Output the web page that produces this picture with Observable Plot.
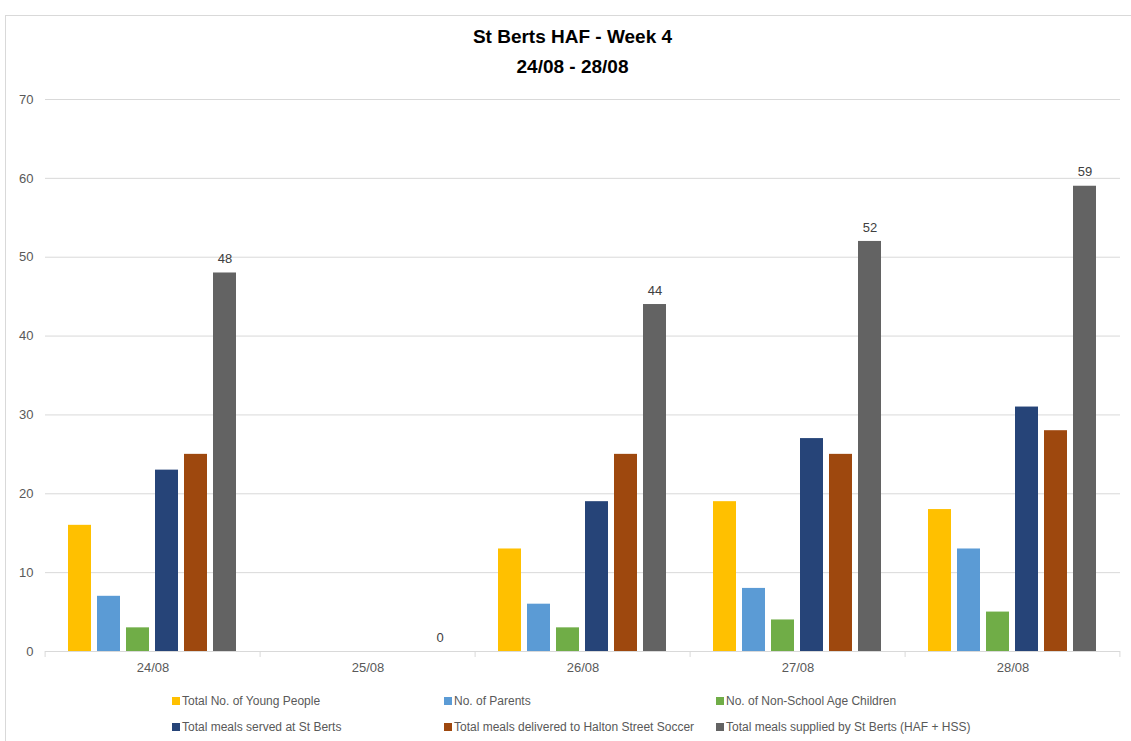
<!DOCTYPE html>
<html>
<head>
<meta charset="utf-8">
<script src="https://cdn.jsdelivr.net/npm/d3@7"></script>
<script src="https://cdn.jsdelivr.net/npm/@observablehq/plot@0.6"></script>
<style>
  html, body { margin: 0; padding: 0; background: #fff; }
  #wrap { position: relative; width: 1131px; height: 741px; overflow: hidden; font-family: "Liberation Sans", Arial, sans-serif; }
  #frame { position: absolute; left: 5px; top: 15px; width: 1140px; height: 740px; border: 1px solid #d9d9d9; box-sizing: border-box; }
  #title { position: absolute; left: 0; width: 1145px; top: 22px; text-align: center; font-weight: bold; font-size: 19px; line-height: 30px; color: #000; }
  #chart { position: absolute; left: 0; top: 90px; }
  .leg { position: absolute; font-size: 12px; color: #595959; white-space: nowrap; line-height: 14px; }
  .leg span.sw { display: inline-block; width: 8px; height: 8px; margin-right: 2px; vertical-align: 0px; }
</style>
</head>
<body>
<div id="wrap">
  <div id="frame"></div>
  <div id="title">St Berts HAF - Week 4<br>24/08 - 28/08</div>
  <div id="chart"></div>
  <div id="legend"></div>
</div>
<script>
const dates = ["24/08", "25/08", "26/08", "27/08", "28/08"];
const series = [
  "Total No. of Young People",
  "No. of Parents",
  "No. of Non-School Age Children",
  "Total meals served at St Berts",
  "Total meals delivered to Halton Street Soccer",
  "Total meals supplied by St Berts (HAF + HSS)"
];
const colors = ["#FFC000", "#5B9BD5", "#70AD47", "#264478", "#9E480E", "#636363"];
const youngPeople    = [16, 0, 13, 19, 18];
const parents        = [7, 0, 6, 8, 13];
const nonSchool      = [3, 0, 3, 4, 5];
const servedStBerts  = [23, 0, 19, 27, 31];
const deliveredHSS   = [25, 0, 25, 25, 28];
const suppliedTotal  = [48, 0, 44, 52, 59];
const yTicks = [0, 10, 20, 30, 40, 50, 60, 70];

const seriesValues = [youngPeople, parents, nonSchool, servedStBerts, deliveredHSS, suppliedTotal];
const rows = [];
dates.forEach((d, i) => {
  series.forEach((s, j) => rows.push({date: d, series: s, value: seriesValues[j][i]}));
});
const labelRows = rows.filter(r => r.series === series[5]);
const barRows = rows.filter(r => r.value > 0);

const W = 1131, mL = 44, mR = 11;
const facetW = (W - mL - mR) / dates.length;
const pIn = 0.2, pOut = 0.8;
const step = facetW / (series.length - pIn + 2 * pOut);
const firstCenterOffset = pOut * step + step * (1 - pIn) / 2;

const chart = Plot.plot({
  width: W,
  height: 591,
  marginTop: 9,
  marginBottom: 30,
  marginLeft: mL,
  marginRight: mR,
  style: {fontFamily: "'Liberation Sans', Arial, sans-serif", fontSize: "13px", color: "#595959", background: "transparent"},
  fx: {domain: dates, padding: 0, label: null, axis: "bottom", tickSize: 0, tickPadding: 11},
  x: {domain: series, paddingInner: pIn, paddingOuter: pOut, axis: null},
  y: {domain: [0, 70], ticks: yTicks, tickSize: 0, tickPadding: 12, label: null},
  color: {domain: series, range: colors},
  marks: [
    Plot.ruleY(yTicks.slice(1), {stroke: "#d9d9d9", strokeWidth: 1}),
    Plot.ruleY([0], {stroke: "#d9d9d9", strokeWidth: 1}),
    Plot.ruleX(dates, {fx: d => d, x: () => series[0], y1: 0, y2: 0, insetBottom: -6, dx: -firstCenterOffset, stroke: "#d9d9d9"}),
    Plot.ruleX([dates[dates.length - 1]], {fx: d => d, x: () => series[5], y1: 0, y2: 0, insetBottom: -6, dx: firstCenterOffset, stroke: "#d9d9d9"}),
    Plot.barY(barRows, {fx: "date", x: "series", y: "value", fill: "series"}),
    Plot.text(labelRows, {fx: "date", x: "series", y: "value", text: d => String(d.value), dy: -14, fill: "#404040", fontSize: 13})
  ]
});
document.getElementById("chart").appendChild(chart);

// legend
const legendPos = [
  [172, 694], [444, 694], [716, 694],
  [172, 720], [444, 720], [716, 720]
];
const leg = document.getElementById("legend");
series.forEach((s, i) => {
  const el = document.createElement("div");
  el.className = "leg";
  el.style.left = legendPos[i][0] + "px";
  el.style.top = legendPos[i][1] + "px";
  el.innerHTML = `<span class="sw" style="background:${colors[i]}"></span>${s}`;
  leg.appendChild(el);
});
</script>
</body>
</html>
